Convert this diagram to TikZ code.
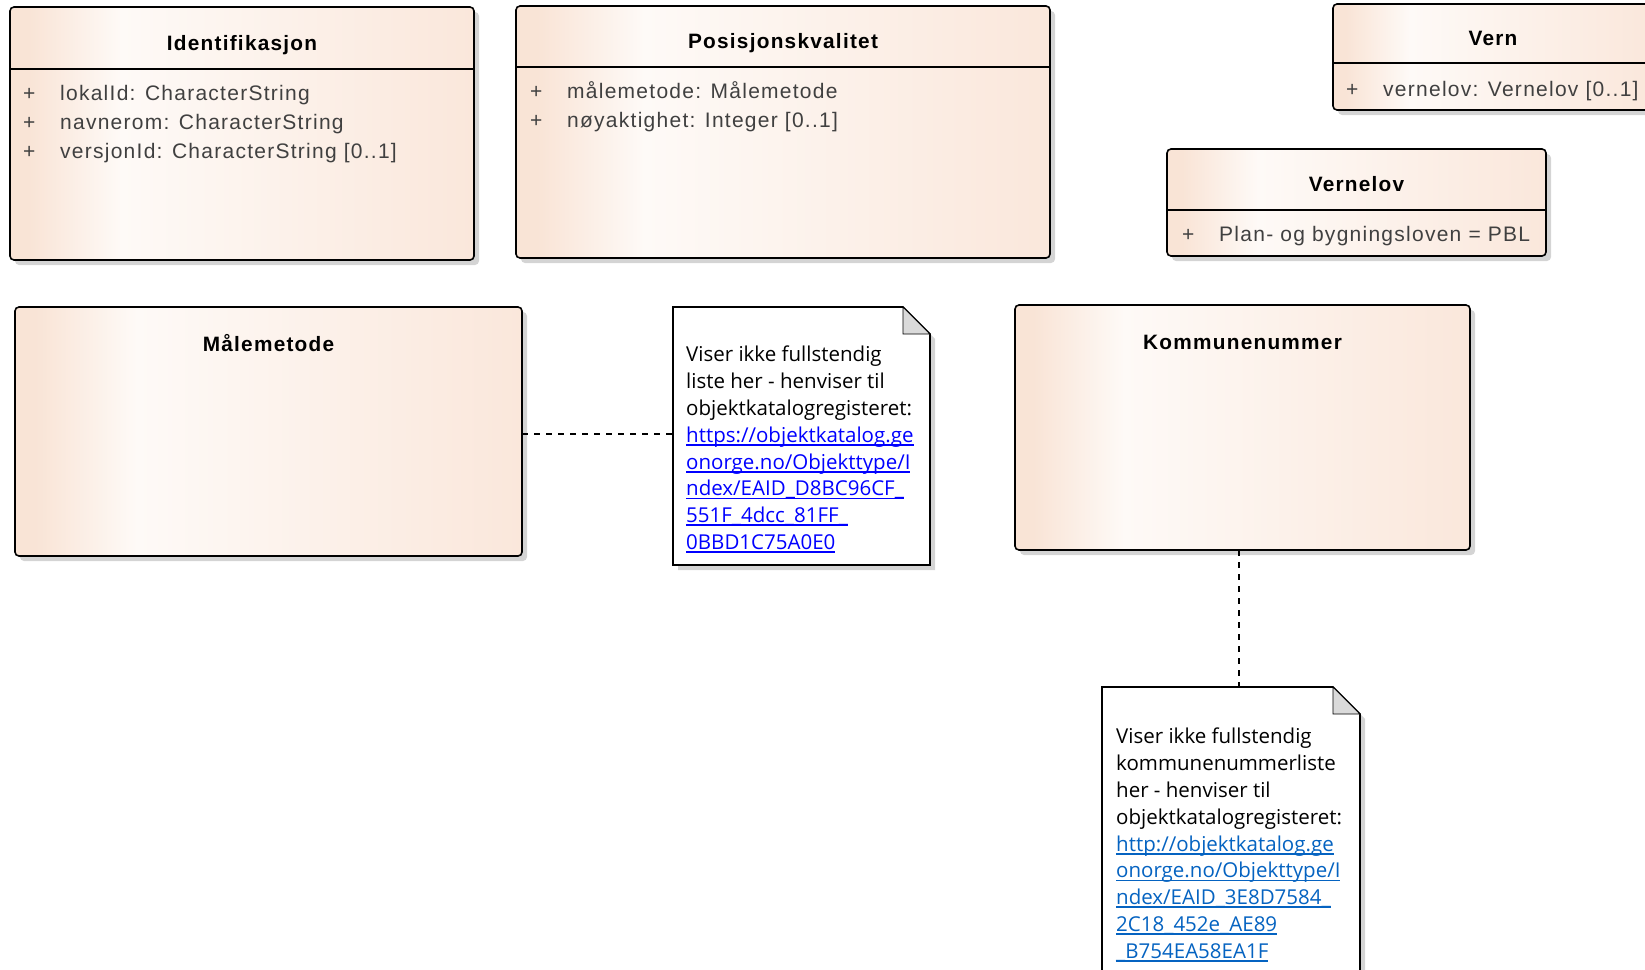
\documentclass[tikz,border=0pt]{standalone}
\usepackage{fontspec}
\usetikzlibrary{positioning}
\usetikzlibrary{shadows}
\newfontfamily\umlfont[LetterSpace=6]{Liberation Sans}
\newfontfamily\notefont{Open Sans}
\definecolor{eapeach}{RGB}{249,228,214}
\definecolor{eawhite}{RGB}{254,250,247}
\definecolor{eapeachr}{RGB}{250,231,219}
\definecolor{attrgray}{RGB}{64,64,64}
\definecolor{foldgray}{RGB}{218,218,218}
\definecolor{shadowgray}{RGB}{212,212,212}
\definecolor{linkblue}{RGB}{0,0,255}
\definecolor{linkbluetwo}{RGB}{5,99,193}
\pgfdeclarehorizontalshading{eashade}{100bp}{color(0bp)=(eapeach); color(27bp)=(eapeach); color(37bp)=(eawhite); color(75bp)=(eapeachr); color(100bp)=(eapeachr)}
\newcommand\lnk[2]{{\color{#1}\setbox0\hbox{#2}\rlap{\rule[-3.5pt]{\wd0}{1.8pt}}\box0}}
\newcommand\attrl[1]{\makebox[37pt][l]{+}#1}

\begin{document}
\begin{tikzpicture}[x=1pt, y=-1pt,
  cls/.style={draw, line width=1.6pt, rounded corners=4pt, shade, shading=eashade, anchor=north west, inner sep=0pt, outer sep=0pt,
    drop shadow={shadow xshift=5pt, shadow yshift=-5pt, fill=shadowgray, opacity=1}},
  hdr/.style={line width=1.6pt},
  ttl/.style={font=\umlfont\bfseries\fontsize{20.8}{24}\selectfont, anchor=base, inner sep=0pt},
  attr/.style={font=\umlfont\fontsize{21}{24}\selectfont, text=attrgray, anchor=base west, inner sep=0pt},
  notefr/.style={anchor=north west, inner sep=0pt, outer sep=0pt},
  notebd/.style={line width=1.6pt, fill=white, line join=miter,
    drop shadow={shadow xshift=5pt, shadow yshift=-5pt, fill=shadowgray, opacity=1}},
  foldbd/.style={line width=0.8pt, fill=foldgray},
  notetxt/.style={font=\notefont\fontsize{20.5}{26.8}\selectfont, align=left, inner sep=0pt, anchor=north west},
  assoc/.style={line width=2pt, dash pattern=on 6pt off 6pt}]
\useasboundingbox (0,0) rectangle (1645,969);
\clip (0,0) rectangle (1645,969);

% classes
\node[cls, minimum width=464pt, minimum height=253pt] (ident) at (10,7) {};
\node[cls, minimum width=534pt, minimum height=252pt] (posk) at (516,6) {};
\node[cls, minimum width=320pt, minimum height=106pt] (vern) at (1333,4) {};
\node[cls, minimum width=379pt, minimum height=107pt] (vernelov) at (1167,149) {};
\node[cls, minimum width=507pt, minimum height=249pt] (male) at (15,307) {};
\node[cls, minimum width=455pt, minimum height=245pt] (kommune) at (1015,305) {};

\foreach \c/\h in {ident/62,posk/61,vern/59,vernelov/61}
  \draw[hdr] ([shift={(0,\h)}]\c.north west) -- ([shift={(0,\h)}]\c.north east);

\foreach \c/\t/\b in {ident/Identifikasjon/43, posk/Posisjonskvalitet/42, vern/Vern/41, vernelov/Vernelov/42, male/Målemetode/44, kommune/Kommunenummer/44}
  \node[ttl] (\c-t) at ([shift={(0,\b)}]\c.north) {\t};

% attributes
\foreach \a [count=\i from 0] in {{lokalId: CharacterString},{navnerom: CharacterString},{versjonId: CharacterString [0..1]}}
  \node[attr] (ident-a\i) at ([shift={(13,93+29*\i)}]ident.north west) {\attrl{\a}};
\foreach \a [count=\i from 0] in {{målemetode: Målemetode},{nøyaktighet: Integer [0..1]}}
  \node[attr] (posk-a\i) at ([shift={(14,92+29*\i)}]posk.north west) {\attrl{\a}};
\node[attr] (vern-a0) at ([shift={(13,92)}]vern.north west) {\attrl{vernelov: Vernelov [0..1]}};
\node[attr] (vernelov-a0) at ([shift={(15,92)}]vernelov.north west) {\attrl{Plan- og bygningsloven = PBL}};

% notes
\node[notefr, minimum width=257pt, minimum height=258pt] (note1) at (673,307) {};
\node[notefr, minimum width=258pt, minimum height=330pt] (note2) at (1102,687) {};

\coordinate (mn) at ([yshift=-2pt]male.east);
\draw[assoc] (mn) -- (mn -| note1.west);
\coordinate (kn) at ([xshift=-4pt]kommune.south);
\draw[assoc] (kn) -- (kn |- note2.north);

\foreach \n in {note1,note2} {
  \draw[notebd] (\n.north west) -- ([shift={(-27,0)}]\n.north east) -- ([shift={(0,27)}]\n.north east)
    -- (\n.south east) -- (\n.south west) -- cycle;
  \draw[foldbd] ([shift={(-27,0)}]\n.north east) -- ([shift={(-27,27)}]\n.north east)
    -- ([shift={(0,27)}]\n.north east) -- cycle;
}

\node[notetxt, below right=39pt and 13pt of note1.north west] (note1-t) {Viser ikke fullstendig\\liste her - henviser til\\objektkatalogregisteret:\\
  \lnk{linkblue}{https://objektkatalog.ge}\\\lnk{linkblue}{onorge.no/Objekttype/I}\\\lnk{linkblue}{ndex/EAID\_D8BC96CF\_}\\
  \lnk{linkblue}{551F\_4dcc\_81FF\_}\\\lnk{linkblue}{0BBD1C75A0E0}};
\node[notetxt, below right=41pt and 14pt of note2.north west] (note2-t) {Viser ikke fullstendig\\kommunenummerliste\\her - henviser til\\objektkatalogregisteret:\\
  \lnk{linkbluetwo}{http://objektkatalog.ge}\\\lnk{linkbluetwo}{onorge.no/Objekttype/I}\\\lnk{linkbluetwo}{ndex/EAID\_3E8D7584\_}\\
  \lnk{linkbluetwo}{2C18\_452e\_AE89}\\\lnk{linkbluetwo}{\_B754EA58EA1F}};
\end{tikzpicture}
\end{document}
